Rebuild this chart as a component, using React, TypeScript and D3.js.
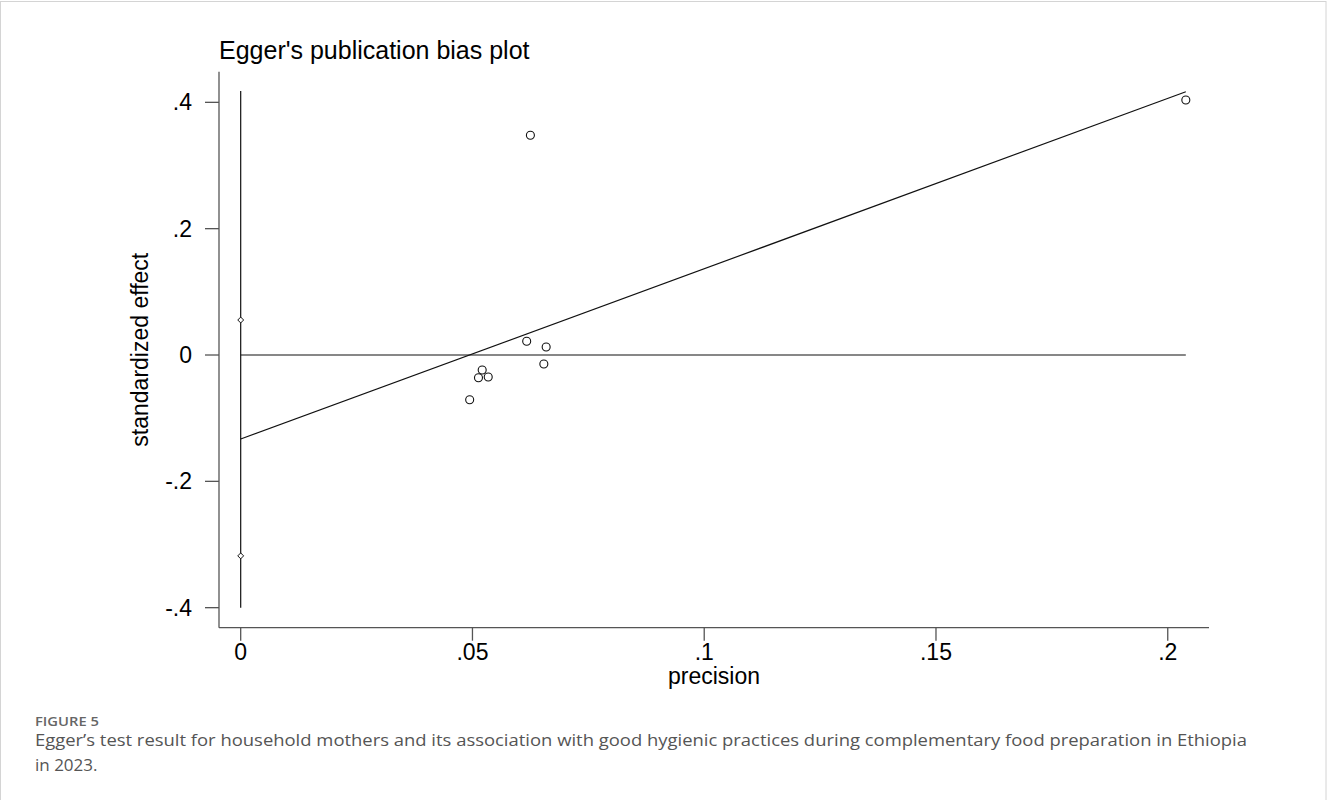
import React from "react";
import * as d3 from "d3";

// study points: precision (1/se) vs standardized effect
const precision = [0.0625, 0.2039, 0.0617, 0.0659, 0.0654, 0.0521, 0.0513, 0.0534, 0.0494];
const stdEffect = [0.348, 0.4037, 0.0217, 0.0127, -0.0142, -0.0237, -0.0359, -0.0348, -0.0708];

// Egger regression line + 95% CI of the intercept
const eggerIntercept = -0.133;
const eggerSlope = 2.696;
const interceptCI = [0.0554, -0.318];
const spikeRange = [-0.4, 0.418];

const xTicks = [0, 0.05, 0.1, 0.15, 0.2];
const xTickLabels = ["0", ".05", ".1", ".15", ".2"];
const yTicks = [-0.4, -0.2, 0, 0.2, 0.4];
const yTickLabels = ["-.4", "-.2", "0", ".2", ".4"];

const captionLines = [
  "Egger\u2019s test result for household mothers and its association with good hygienic practices during complementary food preparation in Ethiopia",
  "in 2023.",
];

const useD3 = (renderFn: (svg: any) => void, deps: any[]) => {
  const ref = React.useRef<SVGSVGElement>(null);
  React.useEffect(() => {
    renderFn(d3.select(ref.current));
  }, deps);
  return ref;
};

function EggerPlot() {
  const ref = useD3((svg) => {
    svg.selectAll("*").remove();
    const left = 219, right = 1209, top = 71.7, bottom = 627.7;
    const font = "'Liberation Sans', Arial, sans-serif";
    const axisColor = "#555";

    const x = d3.scaleLinear().domain([-0.00468, 0.2089]).range([left, right]);
    const y = d3.scaleLinear().domain([-0.4317, 0.4485]).range([bottom, top]);

    // frame around the figure
    svg.append("rect")
      .attr("x", 0.5).attr("y", 1.5).attr("width", 1325.5).attr("height", 805)
      .attr("fill", "none").attr("stroke", "#d4d4d4");

    svg.append("text")
      .attr("x", left).attr("y", 59)
      .attr("font-family", font).attr("font-size", 25)
      .text("Egger's publication bias plot");

    // y axis
    const yAxis = svg.append("g");
    yAxis.append("line")
      .attr("x1", left).attr("x2", left).attr("y1", top).attr("y2", bottom)
      .attr("stroke", axisColor).attr("stroke-width", 1.3);
    yTicks.forEach((t, i) => {
      yAxis.append("line")
        .attr("x1", left - 14).attr("x2", left).attr("y1", y(t)).attr("y2", y(t))
        .attr("stroke", axisColor).attr("stroke-width", 1.3);
      yAxis.append("text")
        .attr("x", left - 27).attr("y", y(t)).attr("dy", "0.35em")
        .attr("text-anchor", "end")
        .attr("font-family", font).attr("font-size", 23)
        .text(yTickLabels[i]);
    });
    svg.append("text")
      .attr("transform", `translate(148,${(top + bottom) / 2}) rotate(-90)`)
      .attr("text-anchor", "middle")
      .attr("font-family", font).attr("font-size", 23)
      .text("standardized effect");

    // x axis
    const xAxis = svg.append("g");
    xAxis.append("line")
      .attr("x1", left).attr("x2", right).attr("y1", bottom).attr("y2", bottom)
      .attr("stroke", axisColor).attr("stroke-width", 1.3);
    xTicks.forEach((t, i) => {
      xAxis.append("line")
        .attr("x1", x(t)).attr("x2", x(t)).attr("y1", bottom).attr("y2", bottom + 13)
        .attr("stroke", axisColor).attr("stroke-width", 1.3);
      xAxis.append("text")
        .attr("x", x(t)).attr("y", 660)
        .attr("text-anchor", "middle")
        .attr("font-family", font).attr("font-size", 23)
        .text(xTickLabels[i]);
    });
    svg.append("text")
      .attr("x", (left + right) / 2).attr("y", 684)
      .attr("text-anchor", "middle")
      .attr("font-family", font).attr("font-size", 23)
      .text("precision");

    const maxP = d3.max(precision) as number;
    const plot = svg.append("g").attr("stroke", "#111").attr("fill", "none");

    // vertical spike at precision 0
    plot.append("line")
      .attr("x1", x(0)).attr("x2", x(0))
      .attr("y1", y(spikeRange[0])).attr("y2", y(spikeRange[1]))
      .attr("stroke-width", 1.2);
    // zero line
    plot.append("line")
      .attr("x1", x(0)).attr("x2", x(maxP))
      .attr("y1", y(0)).attr("y2", y(0))
      .attr("stroke-width", 1.2);
    // regression line
    plot.append("line")
      .attr("x1", x(0)).attr("x2", x(maxP))
      .attr("y1", y(eggerIntercept)).attr("y2", y(eggerIntercept + eggerSlope * maxP))
      .attr("stroke-width", 1.2);

    // CI diamonds
    const diamond = d3.symbol().type(d3.symbolDiamond2).size(22);
    plot.selectAll(".ci")
      .data(interceptCI)
      .join("path")
      .attr("class", "ci")
      .attr("d", diamond)
      .attr("transform", (d) => `translate(${x(0)},${y(d)})`)
      .attr("fill", "#fff")
      .attr("stroke-width", 1);

    // study circles
    plot.selectAll(".pt")
      .data(precision)
      .join("circle")
      .attr("class", "pt")
      .attr("cx", (d) => x(d))
      .attr("cy", (d, i) => y(stdEffect[i]))
      .attr("r", 4)
      .attr("stroke-width", 1.1);

    // caption
    const capFont = "'Open Sans', 'Noto Sans', sans-serif";
    svg.append("text")
      .attr("x", 35).attr("y", 726)
      .attr("font-family", capFont).attr("font-size", 12.5).attr("font-weight", 600)
      .attr("fill", "#666")
      .attr("textLength", 64).attr("lengthAdjust", "spacingAndGlyphs")
      .text("FIGURE 5");
    captionLines.forEach((line, i) => {
      const t = svg.append("text")
        .attr("x", 35).attr("y", 746 + i * 25)
        .attr("font-family", capFont).attr("font-size", 17)
        .attr("fill", "#555")
        .text(line);
      if (i === 0) t.attr("textLength", 1212).attr("lengthAdjust", "spacingAndGlyphs");
    });
  }, []);

  return (
    <svg
      ref={ref}
      width={1327}
      height={800}
      style={{ position: "absolute", left: 0, top: 0, background: "#fff" }}
    />
  );
}

export default function App() {
  return <EggerPlot />;
}
